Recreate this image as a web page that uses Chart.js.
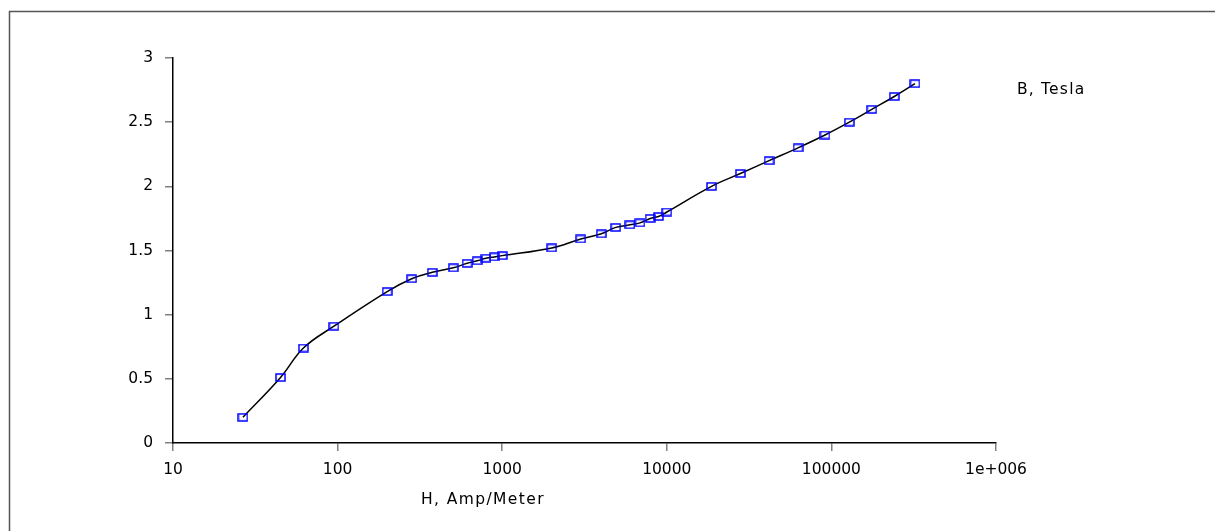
<!DOCTYPE html>
<html>
<head>
<meta charset="utf-8">
<script src="https://cdn.jsdelivr.net/npm/chart.js@4/dist/chart.umd.min.js"></script>
<style>
  html, body { margin: 0; padding: 0; background: #fff; }
  #wrap { width: 1215px; height: 531px; position: relative; }
</style>
</head>
<body>
<div id="wrap"><canvas id="c" width="1215" height="531"></canvas></div>
<script>
// ---- Data ----
const hValues = [26.6, 45, 62, 95, 200, 282, 376, 505, 612, 705, 797, 895, 1000,
                 2000, 3000, 4000, 4900, 5970, 6870, 7920, 8900, 10000,
                 18700, 28000, 41800, 62700, 91400, 128500, 176000, 241000, 322000];
const bValues = [0.20, 0.51, 0.74, 0.91, 1.18, 1.28, 1.33, 1.365, 1.40, 1.42, 1.44, 1.45, 1.46,
                 1.52, 1.59, 1.63, 1.68, 1.70, 1.715, 1.75, 1.765, 1.80,
                 2.00, 2.10, 2.20, 2.30, 2.40, 2.50, 2.60, 2.70, 2.80];
const xTickValues = [10, 100, 1000, 10000, 100000, 1000000];
const xTickLabels = ["10", "100", "1000", "10000", "100000", "1e+006"];
const yTickValues = [0, 0.5, 1, 1.5, 2, 2.5, 3];
const yTickLabels = ["0", "0.5", "1", "1.5", "2", "2.5", "3"];
const seriesName = "B, Tesla";
const xAxisTitle = "H, Amp/Meter";

const points = hValues.map((h, i) => ({ x: h, y: bValues[i] }));

// hollow rectangular marker
const marker = document.createElement('canvas');
marker.width = 11; marker.height = 9;
(function () {
  const m = marker.getContext('2d');
  m.strokeStyle = '#0000ff';
  m.lineWidth = 1.5;
  m.strokeRect(1, 1, 9, 7);
})();

const FONT = "'DejaVu Sans', Verdana, sans-serif";

const decor = {
  id: 'decor',
  beforeDraw(chart) {
    const ctx = chart.ctx;
    ctx.save();
    ctx.fillStyle = '#fff';
    ctx.fillRect(0, 0, chart.width, chart.height);
    ctx.strokeStyle = '#555';
    ctx.lineWidth = 1.5;
    ctx.beginPath();
    ctx.moveTo(9.5, chart.height);
    ctx.lineTo(9.5, 11.5);
    ctx.lineTo(chart.width, 11.5);
    ctx.stroke();
    ctx.restore();
  },
  afterDraw(chart) {
    const ctx = chart.ctx;
    ctx.save();
    ctx.fillStyle = '#000';
    ctx.font = "15.5px " + FONT;
    ctx.textBaseline = 'middle';
    ctx.textAlign = 'left';
    try { ctx.letterSpacing = '1.2px'; } catch (e) {}
    ctx.fillText(seriesName, 1017, 90);
    try { ctx.letterSpacing = '1.4px'; } catch (e) {}
    ctx.fillText(xAxisTitle, 421, 500);
    ctx.restore();
  }
};

new Chart(document.getElementById('c'), {
  type: 'line',
  data: {
    datasets: [{
      label: seriesName,
      data: points,
      borderColor: '#000',
      borderWidth: 1.5,
      backgroundColor: 'transparent',
      fill: false,
      tension: 0.4,
      pointStyle: marker,
      pointRadius: 5,
      pointHoverRadius: 5
    }]
  },
  options: {
    responsive: false,
    animation: false,
    devicePixelRatio: 1,
    layout: { padding: { left: 0, right: 219, top: 58, bottom: 0 } },
    plugins: {
      legend: { display: false },
      tooltip: { enabled: false },
      title: { display: false }
    },
    scales: {
      x: {
        type: 'logarithmic',
        min: 10,
        max: 1000000,
        afterBuildTicks: (s) => { s.ticks = xTickValues.map(v => ({ value: v })); },
        afterFit: (s) => { s.height = 88; },
        ticks: {
          autoSkip: false,
          maxRotation: 0,
          padding: 10,
          color: '#000',
          font: { family: FONT, size: 15.5 },
          callback: (v) => { const i = xTickValues.indexOf(v); return i >= 0 ? xTickLabels[i] : ''; }
        },
        grid: { drawOnChartArea: false, drawTicks: true, tickLength: 8, color: '#808080', lineWidth: 1.5 },
        border: { color: '#000', width: 1.5 }
      },
      y: {
        type: 'linear',
        min: 0,
        max: 3,
        afterBuildTicks: (s) => { s.ticks = yTickValues.map(v => ({ value: v })); },
        afterFit: (s) => { s.width = 173; },
        ticks: {
          autoSkip: false,
          padding: 12,
          color: '#000',
          font: { family: FONT, size: 15.5 },
          callback: (v) => { const i = yTickValues.indexOf(v); return i >= 0 ? yTickLabels[i] : ''; }
        },
        grid: { drawOnChartArea: false, drawTicks: true, tickLength: 8, color: '#808080', lineWidth: 1.5 },
        border: { color: '#000', width: 1.5 }
      }
    }
  },
  plugins: [decor]
});
</script>
</body>
</html>
